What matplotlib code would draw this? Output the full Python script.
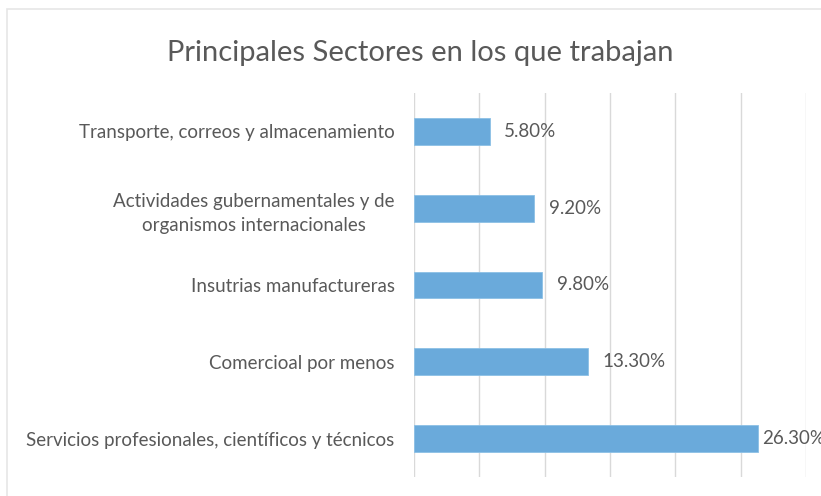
import matplotlib
matplotlib.use("Agg")
import matplotlib.pyplot as plt
from matplotlib.patches import Rectangle

# ── Data ────────────────────────────────────────────────
categories = [
    "Servicios profesionales, científicos y técnicos",
    "Comercioal por menos",
    "Insutrias manufactureras",
    "Actividades gubernamentales y de\norganismos internacionales",
    "Transporte, correos y almacenamiento",
]
values = [26.3, 13.3, 9.8, 9.2, 5.8]
value_labels = ["26.30%", "13.30%", "9.80%", "9.20%", "5.80%"]
title = "Principales Sectores en los que trabajan"

BAR_COLOR = "#6aaadb"
TEXT_COLOR = "#595959"
GRID_COLOR = "#d9d9d9"

plt.rcParams["font.family"] = ["Lato", "DejaVu Sans"]

fig = plt.figure(figsize=(8.21, 4.96), dpi=100)
fig.patch.set_facecolor("white")

# chart frame (light border, cropped at right/bottom)
fig.patches.append(Rectangle((7 / 821, -0.05), 1.1, 1 - 9 / 496 + 0.05,
                             transform=fig.transFigure, fill=False,
                             edgecolor="#e6e6e6", linewidth=1.2))

ax = fig.add_axes([414 / 821, 1 - 477 / 496, (806 - 414) / 821, (477 - 93) / 496])

y = range(len(categories))
ax.barh(y, values, height=0.35, color=BAR_COLOR, edgecolor="#8cc0e6", linewidth=0.6, zorder=3)

ax.set_xlim(0, 30)
ax.set_ylim(-0.5, len(categories) - 0.5)
ax.set_xticks(range(0, 31, 5))
ax.xaxis.grid(True, color=GRID_COLOR, linewidth=1.0, zorder=0)
ax.tick_params(axis="x", length=0, labelbottom=False)
ax.tick_params(axis="y", length=0, pad=14)
ax.set_yticks(list(y))
ax.set_yticklabels(categories, fontsize=13.5, color=TEXT_COLOR, linespacing=1.5)
for lbl in ax.get_yticklabels():
    lbl.set_horizontalalignment("right")
    lbl.set_multialignment("center")
for spine in ax.spines.values():
    spine.set_visible(False)

for yi, v, txt in zip(y, values, value_labels):
    off = 3 if v > 25 else 10.5
    ax.annotate(txt, xy=(v, yi), xytext=(off, 0), textcoords="offset points",
                ha="left", va="center", fontsize=13.5, color=TEXT_COLOR,
                annotation_clip=False)

fig.text(420 / 821, 1 - 53 / 496, title, ha="center", va="center",
         fontsize=21, color=TEXT_COLOR)

plt.savefig("out.png", dpi=100, facecolor=fig.get_facecolor())
